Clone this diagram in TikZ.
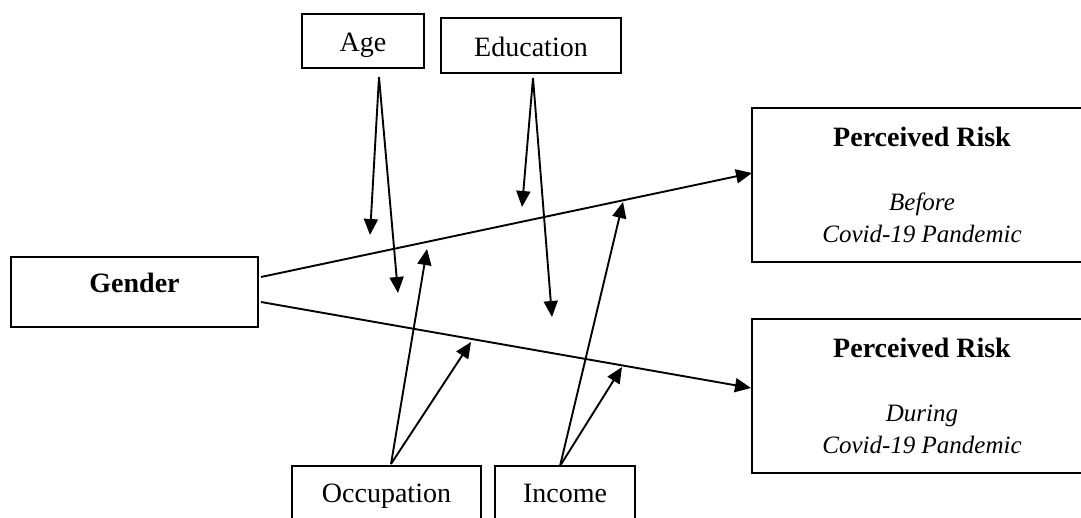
\documentclass[tikz,border=0pt]{standalone}
\usepackage{fontspec}
\setmainfont{Liberation Serif}
\usetikzlibrary{arrows.meta}
\begin{document}
\begin{tikzpicture}[x=1pt,y=-1pt,
  box/.style={draw,line width=1.8pt,inner sep=0pt,font=\fontsize{28}{32}\selectfont},
  single/.style={text height=22pt,text depth=0pt},
  link/.style={line width=1.9pt,-{Triangle[length=16pt,width=14pt]}}]
\useasboundingbox (0,0) rectangle (1081,518);
% boxes
\node[box,minimum width=247pt,minimum height=70pt,text height=20pt,text depth=18pt] (gender) at (134.5,292) {\textbf{Gender}};
\node[box,single,minimum width=122pt,minimum height=54pt] (age) at (363,41) {Age};
\node[box,single,minimum width=180pt,minimum height=55pt] (edu) at (531,45.5) {Education};
\node[box,minimum width=189pt,minimum height=60pt,text height=20pt,text depth=8pt] (occ) at (386.5,496) {Occupation};
\node[box,minimum width=140pt,minimum height=60pt,text height=20pt,text depth=8pt] (inc) at (565,496) {Income};
\node[box,minimum width=340pt,minimum height=154pt,align=center] (pr1) at (922,185)
  {\textbf{Perceived Risk}\\[32pt]\textit{\fontsize{25}{32}\selectfont Before}\\\textit{\fontsize{25}{32}\selectfont Covid-19 Pandemic}};
\node[box,minimum width=340pt,minimum height=154pt,align=center] (pr2) at (922,396)
  {\textbf{Perceived Risk}\\[32pt]\textit{\fontsize{25}{32}\selectfont During}\\\textit{\fontsize{25}{32}\selectfont Covid-19 Pandemic}};
% connector end points
\coordinate (g1) at (261,277);
\coordinate (g2) at (261,302);
\coordinate (p1) at (752,173);
\coordinate (p2) at (751,388);
\coordinate (ageo) at (379,77);
\coordinate (agea) at (370,235);
\coordinate (ageb) at (398,293);
\coordinate (eduo) at (533,78);
\coordinate (edua) at (522,207);
\coordinate (edub) at (552,317);
\coordinate (occo) at (391,464);
\coordinate (occa) at (427,249);
\coordinate (occb) at (471,342);
\coordinate (inco) at (560,466);
\coordinate (inca) at (623,202);
\coordinate (incb) at (622,367);
% connectors
\draw[link] (g1) -- (p1);
\draw[link] (g2) -- (p2);
\draw[link] (ageo) -- (agea);
\draw[link] (ageo) -- (ageb);
\draw[link] (eduo) -- (edua);
\draw[link] (eduo) -- (edub);
\draw[link] (occo) -- (occa);
\draw[link] (occo) -- (occb);
\draw[link] (inco) -- (inca);
\draw[link] (inco) -- (incb);
\end{tikzpicture}
\end{document}
